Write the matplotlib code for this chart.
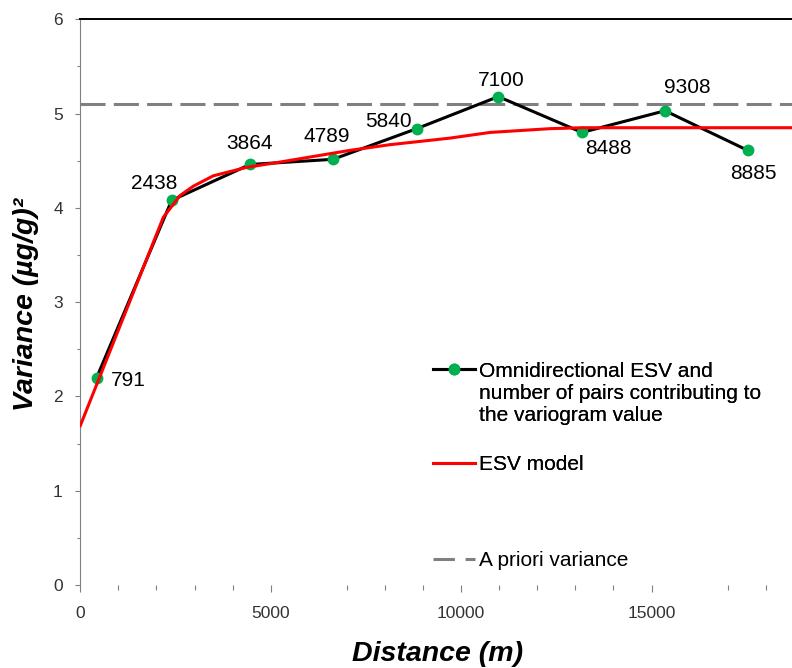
import numpy as np
import matplotlib
matplotlib.use("Agg")
import matplotlib.pyplot as plt
from matplotlib.lines import Line2D
from matplotlib.legend_handler import HandlerLine2D
from matplotlib.ticker import MultipleLocator, FixedLocator

plt.rcParams['font.family'] = ['Liberation Sans', 'DejaVu Sans']

# ---------------- data ----------------
lag_distance = [430, 2400, 4455, 6635, 8834, 10977, 13175, 15355, 17526]
esv_values = [2.20, 4.08, 4.46, 4.515, 4.84, 5.18, 4.80, 5.03, 4.61]
pair_counts = [791, 2438, 3864, 4789, 5840, 7100, 8488, 9308, 8885]

model_distance = [0, 2180, 2618, 2968, 3493, 4370, 5158, 7080, 8130, 9710,
                  10758, 12334, 13175, 20000]
model_values = [1.69, 3.90, 4.13, 4.23, 4.34, 4.43, 4.48, 4.61, 4.67, 4.74,
                4.80, 4.84, 4.85, 4.85]

a_priori_variance = 5.10

x_major_ticks = [0, 5000, 10000, 15000]
x_minor_ticks = [1000, 2000, 3000, 4000, 7000, 8000, 9000, 11000, 12000,
                 13000, 14000, 17000, 18000]

# label placement (offset pixels, alignment) - layout only
label_offsets = [(14.7, -8.3, 'left'), (-17.6, 11, 'center'), (-0.5, 15, 'center'),
                 (-6.4, 17.6, 'center'), (-28.4, 2, 'center'), (2.9, 10.7, 'center'),
                 (26.8, -21.6, 'center'), (22.5, 17.6, 'center'), (5.3, -28.6, 'center')]

# ---------------- figure ----------------
W, H = 792, 668
fig = plt.figure(figsize=(W / 100, H / 100), dpi=100)
ax = fig.add_axes([80.3 / W, 1 - 585 / H, 761.6 / W, 565.7 / H])
ax.set_xlim(0, 20000)
ax.set_ylim(0, 6)

green = '#00B050'
ax.axhline(a_priori_variance, color='#808080', lw=2.2, dashes=(8.2, 2.7), zorder=1)
ax.plot(lag_distance, esv_values, color='black', lw=2.2, marker='o',
        markersize=7.5, markerfacecolor=green, markeredgecolor=green, zorder=2)
model_line, = ax.plot(model_distance, model_values, color='#FF0000', lw=2.2,
                      zorder=3)

for x, y, n, (dx, dy, ha) in zip(lag_distance, esv_values, pair_counts, label_offsets):
    ax.annotate(str(n), (x, y), xytext=(dx, dy), textcoords='offset pixels',
                ha=ha, va='baseline', fontsize=15, color='black', zorder=4)

# spines
ax.spines['bottom'].set_visible(False)
ax.spines['right'].set_visible(False)
ax.spines['top'].set_color('black')
ax.spines['top'].set_linewidth(1.4)
ax.spines['left'].set_color('#808080')
ax.spines['left'].set_linewidth(0.8)

# ticks
ax.xaxis.set_major_locator(FixedLocator(x_major_ticks))
ax.xaxis.set_minor_locator(FixedLocator(x_minor_ticks))
ax.yaxis.set_major_locator(MultipleLocator(1))
ax.yaxis.set_minor_locator(MultipleLocator(0.5))
ax.tick_params(axis='x', which='major', direction='out', length=5, width=0.8,
               color='#808080', labelsize=12.5, labelcolor='#333333', pad=10)
ax.tick_params(axis='x', which='minor', direction='out', length=3.4, width=0.8,
               color='#808080')
ax.tick_params(axis='y', which='major', direction='out', length=3.6, width=0.8,
               color='#808080', labelsize=12.5, labelcolor='#333333', pad=9)
ax.tick_params(axis='y', which='minor', direction='out', length=2.4, width=0.8,
               color='#808080')

ax.set_xlabel('Distance (m)', fontsize=20.5, fontweight='bold', fontstyle='italic')
ax.xaxis.set_label_coords((438 - 80.3) / 761.6, (585 - 641) / 565.7)
ax.set_ylabel('Variance (µg/g)²', fontsize=20.5, fontweight='bold', fontstyle='italic')
ax.yaxis.set_label_coords((39 - 80.3) / 761.6, (585 - 304) / 565.7)


# ---------------- legend ----------------
class FirstLineHandler(HandlerLine2D):
    def __init__(self, shift, **kw):
        super().__init__(**kw)
        self.shift = shift

    def create_artists(self, legend, orig_handle, xdescent, ydescent, width,
                       height, fontsize, trans):
        arts = super().create_artists(legend, orig_handle, xdescent, ydescent,
                                      width, height, fontsize, trans)
        for a in arts:
            a.set_ydata(np.asarray(a.get_ydata(), dtype=float) + self.shift)
        return arts


leg_fs = 15
h1 = Line2D([], [], color='black', lw=2.2, marker='o', markersize=7.5,
            markerfacecolor=green, markeredgecolor=green)
leg1 = fig.legend(
    [h1, model_line],
    ['Omnidirectional ESV and\nnumber of pairs contributing to\nthe variogram value',
     'ESV model'],
    loc='upper left', bbox_to_anchor=(433 / W, 1 - 362 / H),
    frameon=False, fontsize=leg_fs, borderpad=0, borderaxespad=0,
    handlelength=2.0, handletextpad=0.2, labelspacing=1.44, numpoints=1,
    handler_map={h1: FirstLineHandler(shift=1.2 * leg_fs, numpoints=1)})
fig.add_artist(leg1)

h3 = Line2D([], [], color='#808080', lw=2.2, dashes=(7.0, 3.5))
fig.legend([h3], ['A priori variance'], loc='upper left',
           bbox_to_anchor=(433 / W, 1 - 551 / H), frameon=False,
           fontsize=leg_fs, borderpad=0, borderaxespad=0,
           handlelength=2.0, handletextpad=0.2)

fig.savefig('out.png', dpi=100)
